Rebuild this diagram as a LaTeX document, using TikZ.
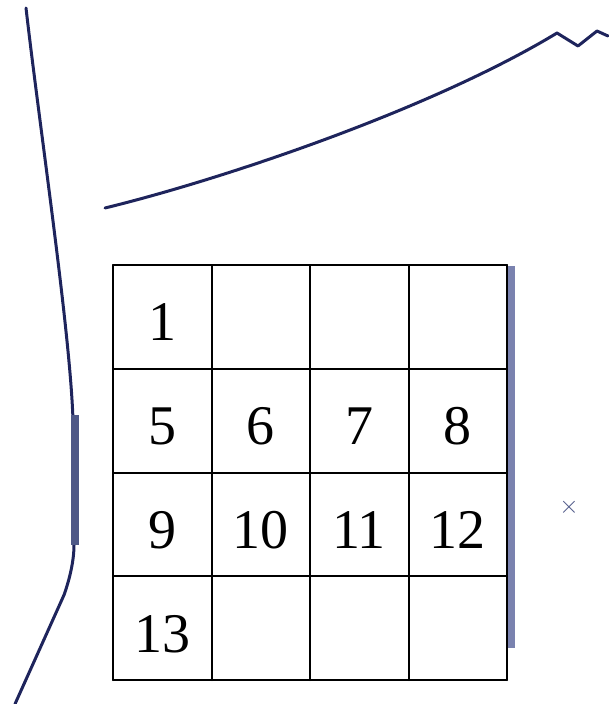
\documentclass[tikz,border=0pt]{standalone}
\usepackage{fontspec}
\setmainfont{Liberation Serif}
\definecolor{inkblue}{RGB}{30,36,92}
\definecolor{barleft}{RGB}{78,88,135}
\definecolor{barright}{RGB}{122,130,175}
\begin{document}
\begin{tikzpicture}[x=1pt, y=-1pt, line join=round, line cap=round,
  curve/.style={inkblue, line width=3pt},
  gridline/.style={black, line width=2pt},
  numcell/.style={font=\fontsize{56}{60}\selectfont, inner sep=0pt}]
  \useasboundingbox (0,0) rectangle (608,704);
  % --- left edge ---
  \draw[curve] (26,8) .. controls (40,130) and (70,330) .. (73,420)
    -- (74,545) .. controls (74,560) and (70,578) .. (64,595) -- (15,704);
  \draw[barleft, line width=8pt, line cap=butt] (75,415) -- (75,545);
  % --- top edge with zigzag ---
  \draw[curve] (105,208) .. controls (220,180) and (430,110) .. (557,33)
    -- (578,46) -- (597,31) -- (608,36);
  % --- right bar ---
  \draw[barright, line width=7pt, line cap=butt] (511,266) -- (511,648);
  \node[barleft, font=\fontsize{26}{28}\selectfont] (cross) at (569,507) {$\times$};
  % --- grid 4x4 ---
  \foreach \i in {0,...,4} {
    \draw[gridline] (113+98.5*\i,265) -- (113+98.5*\i,680);
    \draw[gridline] (113,265+103.75*\i) -- (507,265+103.75*\i);
  }
  % numbers in cells
  \node[numcell] (c1) at (162,322) {1};
  \foreach \n [count=\k from 0] in {5,6,7,8}
    \node[numcell] (c\n) at (162+98.5*\k,426) {\n};
  \foreach \n [count=\k from 0] in {9,10,11,12}
    \node[numcell] (c\n) at (162+98.5*\k,530) {\n};
  \node[numcell] (c13) at (162,634) {13};
\end{tikzpicture}
\end{document}
